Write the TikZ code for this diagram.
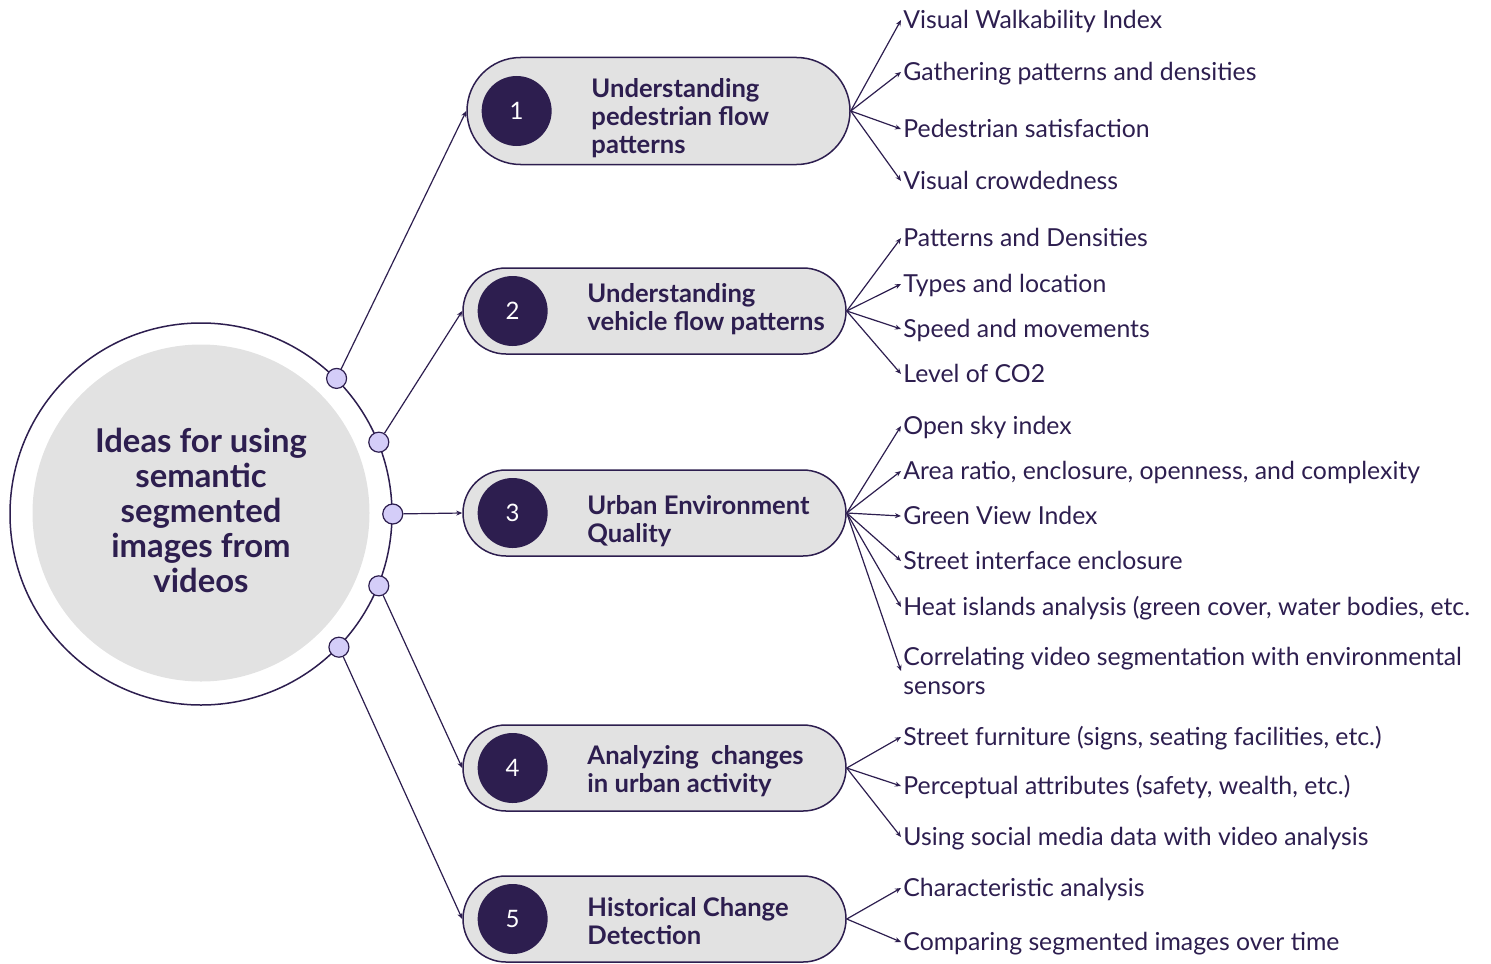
\documentclass[tikz,border=0pt]{standalone}
\usepackage{fontspec}
\setmainfont{Lato}
\usetikzlibrary{positioning, arrows.meta, shapes.misc}

\definecolor{ink}{HTML}{2D1E4F}
\definecolor{pillgray}{HTML}{E2E2E2}
\definecolor{dotlilac}{HTML}{D4CDF8}

\begin{document}
\begin{tikzpicture}[
    x=0.5pt, y=-0.5pt,
    hub/.style={
        circle,
        draw=ink,
        line width=0.75pt,
        minimum size=191pt,
        inner sep=0pt
    },
    core/.style={
        circle,
        fill=pillgray,
        minimum size=168.5pt,
        inner sep=0pt
    },
    title/.style={
        align=center,
        text=ink,
        inner sep=0pt,
        font=\bfseries\fontsize{16.4}{17.5}\selectfont
    },
    dot/.style={
        circle,
        draw=ink,
        fill=dotlilac,
        line width=0.6pt,
        minimum size=10pt,
        inner sep=0pt
    },
    pill/.style={
        rounded rectangle,
        draw=ink,
        fill=pillgray,
        line width=0.75pt,
        minimum width=191.5pt,
        minimum height=43pt,
        inner sep=0pt
    },
    num/.style={
        circle,
        fill=ink,
        text=white,
        minimum size=35pt,
        inner sep=0pt,
        font=\fontsize{12}{14}\selectfont
    },
    topic/.style={
        align=left,
        text=ink,
        inner sep=0pt,
        font=\bfseries\fontsize{12.8}{14}\selectfont
    },
    item/.style={
        anchor=west,
        text=ink,
        inner xsep=1pt,
        inner ysep=0pt,
        text height=10pt,
        text depth=1.5pt,
        font=\fontsize{12.4}{14.5}\selectfont
    },
    note/.style={
        anchor=west,
        align=left,
        text=ink,
        inner xsep=1pt,
        inner ysep=0pt,
        font=\fontsize{12.4}{14.5}\selectfont
    },
    link/.style={
        draw=ink,
        line width=0.6pt,
        -{Stealth[length=3pt, width=2.5pt]}
    }
]

\useasboundingbox (0,0) rectangle (1491,963);

\node[hub] (hub) at (201,514) {};
\node[core] (core) at (201,513) {};
\node[title] (idea) at (201,510) {Ideas for using\\semantic\\segmented\\images from\\videos};

\node[dot] (d1) at (hub.45) {};
\node[dot] (d2) at (hub.22.5) {};
\node[dot] (d3) at (hub.0) {};
\node[dot] (d4) at (hub.-22.5) {};
\node[dot] (d5) at (hub.-44) {};


\node[pill, minimum height=53.5pt] (p1) at (658.5,111) {};
\node[num, right=7.5pt of p1.west] (n1) {1};
\node[topic, right=19.5pt of n1, yshift=-3.5pt] (t1) {Understanding\\pedestrian flow\\patterns};

\node[pill] (p2) at (654.5,311) {};
\node[num, right=7.5pt of p2.west] (n2) {2};
\node[topic, right=19.5pt of n2, yshift=1pt] (t2) {Understanding\\vehicle flow patterns};

\node[pill] (p3) at (654.5,513) {};
\node[num, right=7.5pt of p3.west] (n3) {3};
\node[topic, right=19.5pt of n3, yshift=-4pt] (t3) {Urban Environment\\Quality};

\node[pill] (p4) at (654.5,768) {};
\node[num, right=7.5pt of p4.west] (n4) {4};
\node[topic, right=19.5pt of n4, yshift=-1.5pt] (t4) {Analyzing\ \ changes\\in urban activity};

\node[pill] (p5) at (654.5,919) {};
\node[num, right=7.5pt of p5.west] (n5) {5};
\node[topic, right=19.5pt of n5, yshift=-1pt] (t5) {Historical Change\\Detection};


\draw[link] (d1) -- (p1.west);
\draw[link] (d2) -- (p2.west);
\draw[link] (d3) -- (p3.west);
\draw[link] (d4) -- (p4.west);
\draw[link] (d5) -- (p5.west);


\node[item] (a1) at (901,20) {Visual Walkability Index};
\node[item] (a2) at (901,72) {Gathering patterns and densities};
\node[item] (a3) at (901,129) {Pedestrian satisfaction};
\node[item] (a4) at (901,181) {Visual crowdedness};

\node[item] (b1) at (901,238) {Patterns and Densities};
\node[item] (b2) at (901,284) {Types and location};
\node[item] (b3) at (901,329) {Speed and movements};
\node[item] (b4) at (901,374) {Level of CO2};

\node[item] (c1) at (901,426) {Open sky index};
\node[item] (c2) at (901,471) {Area ratio, enclosure, openness, and complexity};
\node[item] (c3) at (901,516) {Green View Index};
\node[item] (c4) at (901,561) {Street interface enclosure};
\node[item] (c5) at (901,607) {Heat islands analysis (green cover, water bodies, etc.};
\node[note] (c6) at (901,671) {Correlating video segmentation with environmental\\sensors};

\node[item] (e1) at (901,737) {Street furniture (signs, seating facilities, etc.)};
\node[item] (e2) at (901,786) {Perceptual attributes (safety, wealth, etc.)};
\node[item] (e3) at (901,837) {Using social media data with video analysis};

\node[item] (f1) at (901,888) {Characteristic analysis};
\node[item] (f2) at (901,942) {Comparing segmented images over time};


\draw[link] (p1.east) -- (a1.west);
\draw[link] (p1.east) -- (a2.west);
\draw[link] (p1.east) -- (a3.west);
\draw[link] (p1.east) -- (a4.west);

\draw[link] (p2.east) -- (b1.west);
\draw[link] (p2.east) -- (b2.west);
\draw[link] (p2.east) -- (b3.west);
\draw[link] (p2.east) -- (b4.west);

\draw[link] (p3.east) -- (c1.west);
\draw[link] (p3.east) -- (c2.west);
\draw[link] (p3.east) -- (c3.west);
\draw[link] (p3.east) -- (c4.west);
\draw[link] (p3.east) -- (c5.west);
\draw[link] (p3.east) -- (c6.west);

\draw[link] (p4.east) -- (e1.west);
\draw[link] (p4.east) -- (e2.west);
\draw[link] (p4.east) -- (e3.west);

\draw[link] (p5.east) -- (f1.west);
\draw[link] (p5.east) -- (f2.west);

\end{tikzpicture}
\end{document}
